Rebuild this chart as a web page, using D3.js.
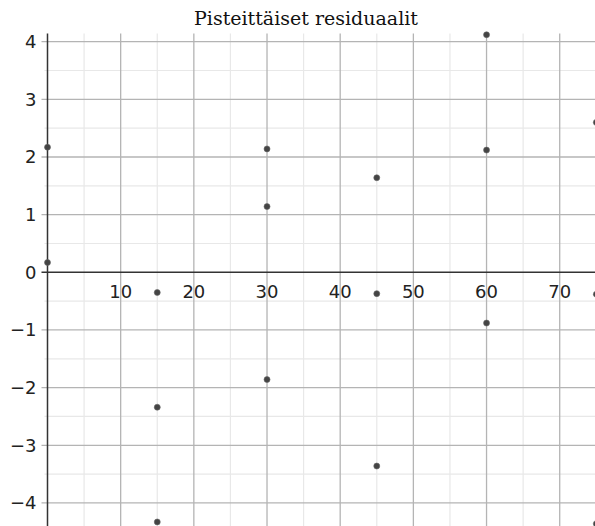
<!DOCTYPE html>
<html>
<head>
<meta charset="utf-8">
<script src="https://cdn.jsdelivr.net/npm/d3@7"></script>
<style>
  html, body { margin: 0; padding: 0; background: #fff; }
  svg { display: block; }
</style>
</head>
<body>
<svg id="chart" width="595" height="526"></svg>
<script>
const title = "Pisteittäiset residuaalit";
const xValues = [0, 0, 15, 15, 15, 30, 30, 30, 45, 45, 45, 60, 60, 60, 75, 75, 75];
const residuals = [2.17, 0.17, -0.35, -2.34, -4.33, 2.14, 1.14, -1.86, 1.64, -0.37, -3.36, 4.12, 2.12, -0.88, 2.6, -0.38, -4.36];
const xTickLabels = [10, 20, 30, 40, 50, 60, 70];
const yTickLabels = [-4, -3, -2, -1, 0, 1, 2, 3, 4];

const W = 595, H = 526;
const svg = d3.select("#chart");

const x = d3.scaleLinear().domain([0, 75]).range([47.5, 596.3]);
const y = d3.scaleLinear().domain([-4.4, 4.14]).range([526, 33.6]);

const plotTop = y(4.14), plotBottom = H, plotLeft = x(0), plotRight = W;

// minor grid
const xMinor = d3.range(5, 80, 10);
const yMinor = d3.range(-4.5, 4.2, 1);
const g = svg.append("g");
g.selectAll(".vminor").data(xMinor).join("line")
  .attr("x1", d => x(d)).attr("x2", d => x(d))
  .attr("y1", plotTop).attr("y2", plotBottom)
  .attr("stroke", "#e8e8e8").attr("stroke-width", 1.2);
g.append("g").selectAll("line").data(yMinor).join("line")
  .attr("x1", plotLeft - 3).attr("x2", plotRight)
  .attr("y1", d => y(d)).attr("y2", d => y(d))
  .attr("stroke", "#e8e8e8").attr("stroke-width", 1.2);

// major grid
g.append("g").selectAll("line").data(xTickLabels).join("line")
  .attr("x1", d => x(d)).attr("x2", d => x(d))
  .attr("y1", plotTop).attr("y2", plotBottom)
  .attr("stroke", "#b4b4b4").attr("stroke-width", 1.3);
g.append("g").selectAll("line").data(yTickLabels.filter(d => d !== 0)).join("line")
  .attr("x1", plotLeft - 6).attr("x2", plotRight)
  .attr("y1", d => y(d)).attr("y2", d => y(d))
  .attr("stroke", "#b4b4b4").attr("stroke-width", 1.3);

// axes
svg.append("line")
  .attr("x1", plotLeft - 6).attr("x2", plotRight)
  .attr("y1", y(0)).attr("y2", y(0))
  .attr("stroke", "#333").attr("stroke-width", 1.5);
svg.append("line")
  .attr("x1", plotLeft).attr("x2", plotLeft)
  .attr("y1", plotTop).attr("y2", plotBottom)
  .attr("stroke", "#333").attr("stroke-width", 1.5);

// tick labels
svg.append("g").selectAll("text").data(xTickLabels).join("text")
  .attr("x", d => x(d)).attr("y", y(0) + 26)
  .attr("text-anchor", "middle")
  .attr("font-family", "DejaVu Sans").attr("font-size", 18)
  .attr("fill", "#222")
  .text(d => d);
svg.append("g").selectAll("text").data(yTickLabels).join("text")
  .attr("x", plotLeft - 11).attr("y", d => y(d))
  .attr("dy", "0.36em")
  .attr("text-anchor", "end")
  .attr("font-family", "DejaVu Sans").attr("font-size", 18)
  .attr("fill", "#222")
  .text(d => d < 0 ? "\u2212" + Math.abs(d) : d);

// points
svg.append("g").selectAll("circle").data(xValues.map((v, i) => [v, residuals[i]])).join("circle")
  .attr("cx", d => x(d[0])).attr("cy", d => y(d[1]))
  .attr("r", 3)
  .attr("fill", "#444").attr("stroke", "#666").attr("stroke-width", 0.6);

// title
svg.append("text")
  .attr("x", 306).attr("y", 25)
  .attr("text-anchor", "middle")
  .attr("font-family", "DejaVu Serif").attr("font-size", 19)
  .attr("fill", "#111")
  .text(title);
</script>
</body>
</html>
